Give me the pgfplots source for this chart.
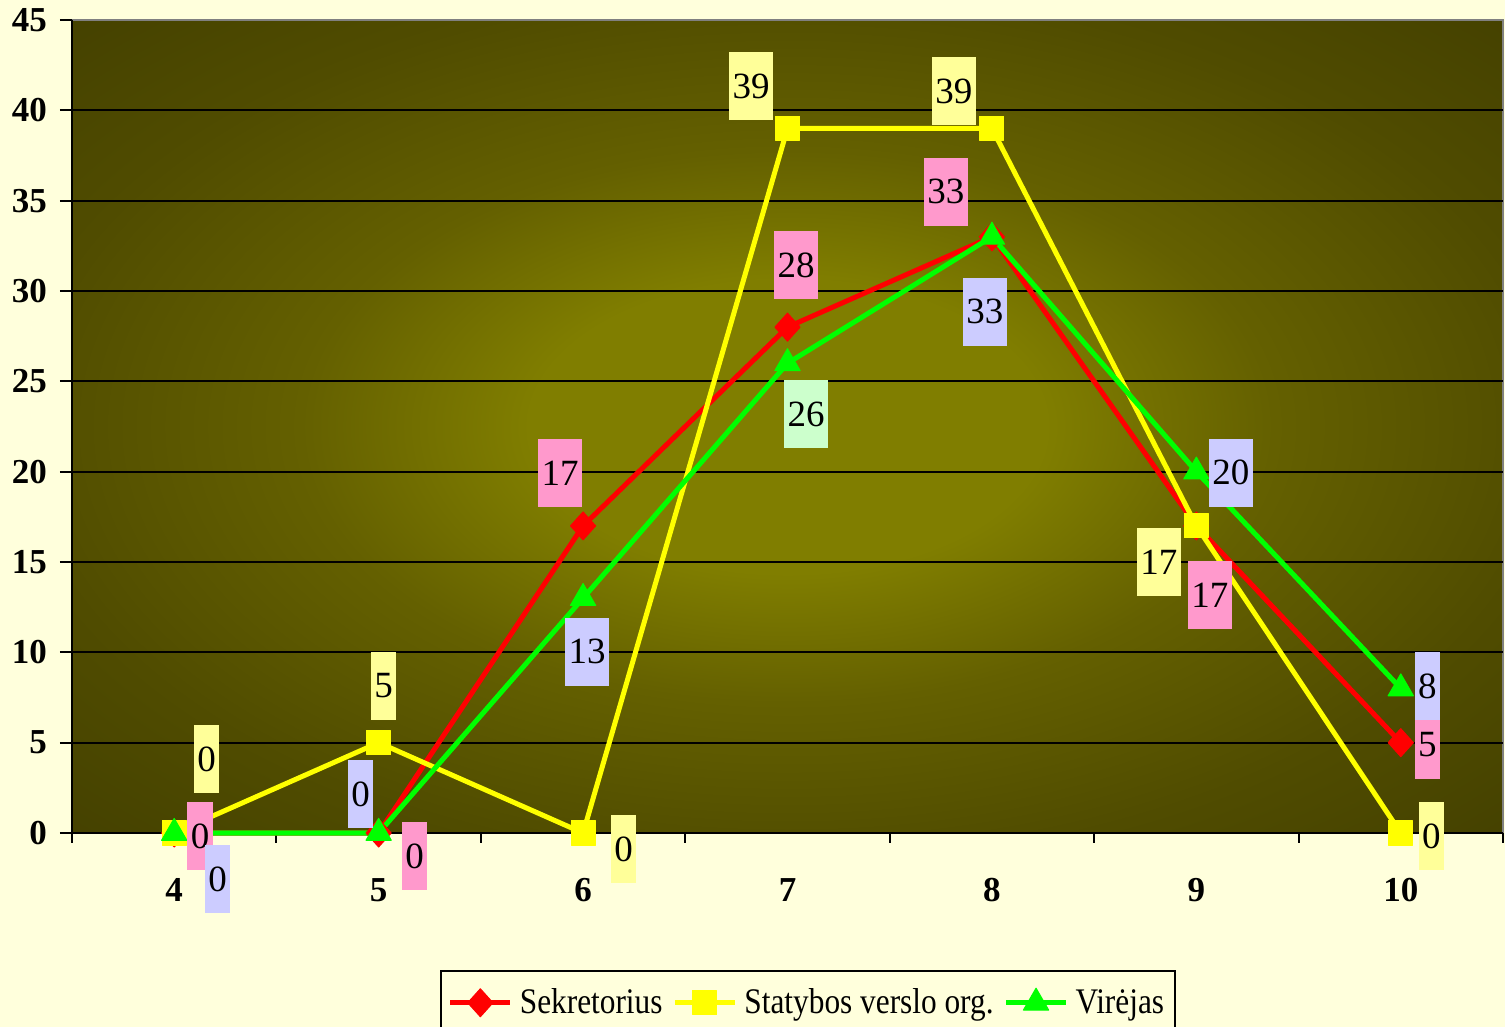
\documentclass[border=0pt]{standalone}
\usepackage{pgfplots}
\usepackage{pgfplotstable}
\usepackage{graphicx}
\usepackage{fontspec}
\setmainfont{Liberation Serif}
\pgfplotsset{compat=1.18}

\definecolor{cream}{RGB}{255,255,220}
\definecolor{bgin}{RGB}{128,126,0}
\definecolor{bgA}{RGB}{100,96,0}
\definecolor{bgB}{RGB}{80,76,0}
\definecolor{bgdark}{RGB}{63,60,0}
\definecolor{bgout}{RGB}{60,57,0}
\definecolor{lpink}{RGB}{255,153,204}
\definecolor{lyel}{RGB}{255,255,153}
\definecolor{llav}{RGB}{204,204,255}
\definecolor{lmint}{RGB}{204,255,204}
\definecolor{sred}{RGB}{255,0,0}
\definecolor{syel}{RGB}{255,255,0}
\definecolor{sgreen}{RGB}{0,255,0}

\pgfdeclareradialshading{plotbg}{\pgfpoint{0bp}{0bp}}{color(0bp)=(bgin); color(9bp)=(bgin); color(17bp)=(bgA); color(27bp)=(bgB); color(40bp)=(bgdark); color(50bp)=(bgout)}

\pgfplotstableread{
x y
4 0
5 0
6 17
7 28
8 33
9 17
10 5
}\sekr

\pgfplotstableread{
x y
4 0
5 5
6 0
7 39
8 39
9 17
10 0
}\stat

\pgfplotstableread{
x y
4 0
5 0
6 13
7 26
8 33
9 20
10 8
}\vire

% data labels: position, offset of the label box (bp), text
\pgfplotstableread{
x y dx dy lab
4 0 13 -1.5 0
5 0 18 -11.5 0
6 17 -11.5 26.5 17
7 28 4.25 31 28
8 33 -23 22.5 33
9 17 6.75 -34.5 17
10 5 13.25 -1 5
}\labsekr

\pgfplotstableread{
x y dx dy lab
4 0 16.25 37 0
5 5 2.5 28.5 5
6 0 20.25 -8 0
7 39 -18.25 21 39
8 39 -19 18.5 39
9 17 -18.75 -18 17
10 0 15.25 -1.5 0
}\labstat

\pgfplotstableread{
x y dx dy lab
4 0 21.75 -23 0
5 0 -9 19.25 0
6 13 2 -26.85 13
8 33 -3.5 -37.5 33
9 20 17.25 -0.5 20
10 8 13.25 1.25 8
}\labvire

\pgfplotstableread{
x y dx dy lab
7 26 9.25 -25.35 26
}\labvirem

\pgfplotsset{
  datalabels/.style={draw=none, mark=none, forget plot, point meta=explicit symbolic,
    visualization depends on={\thisrow{dx}\as\ldx},
    visualization depends on={\thisrow{dy}\as\ldy},
    nodes near coords,
    nodes near coords style={anchor=center, xshift=\ldx bp, yshift=\ldy bp, fill=#1, text=black,
      font=\fontsize{18.5bp}{21bp}\selectfont, inner xsep=1.75bp, inner ysep=0pt, minimum height=34bp}}
}

\begin{document}
\begin{tikzpicture}
\useasboundingbox (0,0) rectangle (752.5bp,513.5bp);
\fill[cream] (0,0) rectangle (752.5bp,513.5bp);
\begin{axis}[
  at={(36bp,97bp)}, anchor=south west,
  scale only axis, width=715.5bp, height=406.5bp,
  xmin=3.5, xmax=10.5, ymin=0, ymax=45,
  clip=false,
  axis lines=left,
  axis line style={-, black, line width=1bp},
  axis background/.style={shade, shading=plotbg, draw=gray, line width=1bp},
  xtick={4,...,10},
  minor xtick={3.5,4.5,...,10.5},
  ytick={0,5,...,45},
  extra y ticks={5,10,...,40},
  extra y tick labels={},
  extra y tick style={grid=major, major tick length=0pt},
  grid style={black, line width=1bp},
  tick align=outside,
  major tick length=6bp,
  minor tick length=5bp,
  every major x tick/.append style={draw=none},
  every minor tick/.append style={black, line width=1bp},
  every major tick/.append style={black, line width=1bp},
  /pgf/number format/assume math mode=true,
  tick label style={font=\bfseries\fontsize{17.5bp}{20bp}\selectfont},
  xticklabel style={anchor=center, yshift=-22.7bp},
  yticklabel style={anchor=east, xshift=-3bp},
  legend style={at={(0.2572,-0.1685)}, anchor=north west, legend columns=-1,
    draw=black, line width=0.8bp, fill=cream, inner xsep=3.5bp, inner ysep=7bp,
    font=\fontsize{18bp}{21bp}\selectfont,
    /tikz/every odd column/.append style={column sep=1.5bp},
    /tikz/every even column/.append style={column sep=3bp}},
  legend cell align=left,
  legend image code/.code={\draw[mark repeat=2,mark phase=2,#1] plot coordinates {(0bp,0bp) (15bp,0bp) (30bp,0bp)};},
]
\addplot[sred, line width=2.5bp, line join=round, mark=diamond*, mark size=7bp, mark options={solid, xscale=1.2, line width=0.5bp}] table[x=x,y=y]{\sekr};
\addlegendentry{\scalebox{0.87}[1]{Sekretorius}}
\addplot[syel, line width=2.5bp, line join=round, mark=square*, mark size=6bp, mark options={solid, line width=0.5bp}] table[x=x,y=y]{\stat};
\addlegendentry{\scalebox{0.87}[1]{Statybos verslo org.}}
\addplot[sgreen, line width=2.5bp, line join=round, mark=triangle*, mark size=7.3bp, mark options={solid, line width=0.5bp}] table[x=x,y=y]{\vire};
\addlegendentry{\scalebox{0.87}[1]{Virėjas}}
\addplot[datalabels=lpink] table[x=x,y=y,meta=lab]{\labsekr};
\addplot[datalabels=lyel] table[x=x,y=y,meta=lab]{\labstat};
\addplot[datalabels=llav] table[x=x,y=y,meta=lab]{\labvire};
\addplot[datalabels=lmint] table[x=x,y=y,meta=lab]{\labvirem};
\end{axis}
\end{tikzpicture}
\end{document}
